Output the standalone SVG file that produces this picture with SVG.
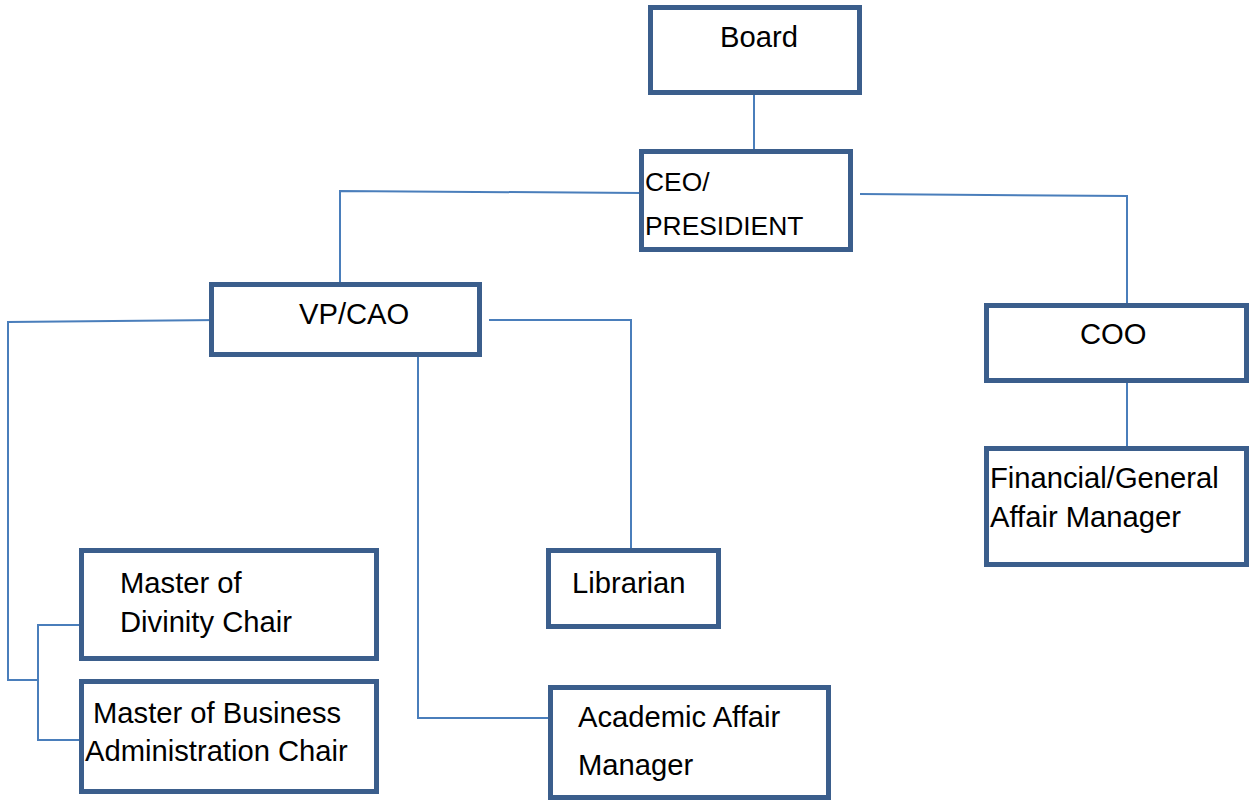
<svg xmlns="http://www.w3.org/2000/svg" width="1249" height="800" viewBox="0 0 1249 800">
<style>
.box{fill:#fff;stroke:#3B5E8C;stroke-width:5}
.t{font-family:"Liberation Sans",Arial,sans-serif;font-size:29.2px;fill:#000}
.s{font-size:26.4px}
.c{fill:none;stroke:#4A7EBB;stroke-width:2}
</style>
<rect width="1249" height="800" fill="#fff"/>
<g id="connectors">
<path class="c" d="M754 94V154"/>
<path class="c" d="M641 193L340 191V282"/>
<path class="c" d="M860 194L1127 196V305"/>
<path class="c" d="M1127 383V447"/>
<path class="c" d="M220 320L8 322V680H38"/>
<path class="c" d="M80 625H38V740H80"/>
<path class="c" d="M489 320H631V548"/>
<path class="c" d="M418 356V718H548"/>
</g>
<g id="board"><rect class="box" x="650.5" y="7.5" width="209" height="85"/><text class="t" x="720" y="47">Board</text></g>
<g id="ceo"><rect class="box" x="641.5" y="151.5" width="209" height="98"/><text class="t s" x="645" y="191">CEO/</text><text class="t s" x="645" y="235">PRESIDIENT</text></g>
<g id="vpcao"><rect class="box" x="211.5" y="284.5" width="268" height="70"/><text class="t" x="299" y="324">VP/CAO</text></g>
<g id="coo"><rect class="box" x="986.5" y="305.5" width="260" height="75"/><text class="t" x="1080" y="344">COO</text></g>
<g id="financial"><rect class="box" x="986.5" y="448.5" width="260" height="116"/><text class="t" x="990" y="488">Financial/General</text><text class="t" x="990" y="527">Affair Manager</text></g>
<g id="mdiv"><rect class="box" x="81.5" y="550.5" width="295" height="108"/><text class="t" x="120" y="593">Master of</text><text class="t" x="120" y="632">Divinity Chair</text></g>
<g id="mba"><rect class="box" x="81.5" y="681.5" width="295" height="110"/><text class="t" x="93" y="723">Master of Business</text><text class="t" x="85" y="761">Administration Chair</text></g>
<g id="librarian"><rect class="box" x="548.5" y="550.5" width="170" height="76"/><text class="t" x="572" y="593">Librarian</text></g>
<g id="academic"><rect class="box" x="550.5" y="687.5" width="278" height="110"/><text class="t" x="578" y="727">Academic Affair</text><text class="t" x="578" y="775">Manager</text></g>
</svg>
